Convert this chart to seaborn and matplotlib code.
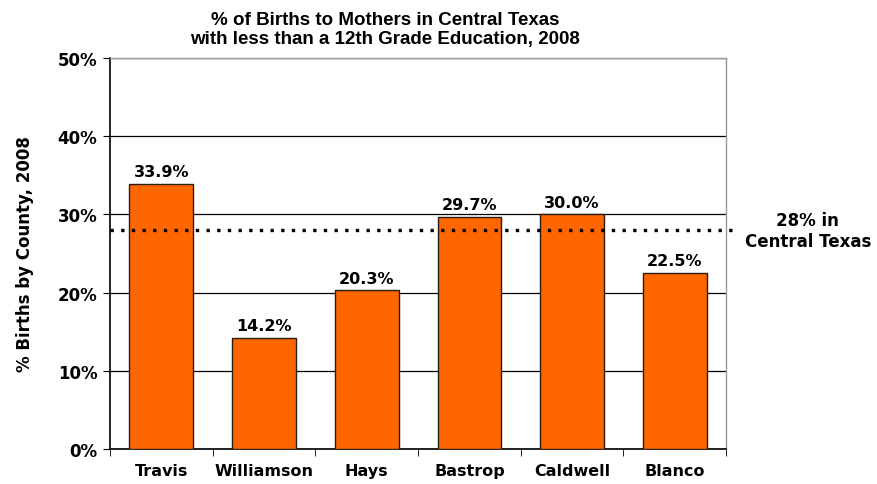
import pandas as pd
import numpy as np
import seaborn as sns
import matplotlib.pyplot as plt
from matplotlib.ticker import PercentFormatter

# data
counties = ['Travis', 'Williamson', 'Hays', 'Bastrop', 'Caldwell', 'Blanco']
pct_births = [33.9, 14.2, 20.3, 29.7, 30.0, 22.5]
central_texas = 28.0

df = pd.DataFrame({'county': counties, 'pct': pct_births})

sns.set_style('white')
plt.rcParams['font.family'] = ['DejaVu Sans']
plt.rcParams['text.color'] = 'black'
plt.rcParams['axes.labelcolor'] = 'black'
plt.rcParams['xtick.color'] = 'black'
plt.rcParams['ytick.color'] = 'black'

fig = plt.figure(figsize=(8.77, 4.85), dpi=100)
ax = fig.add_axes([0.1254, 0.0722, 0.7026, 0.8062])

sns.barplot(data=df, x='county', y='pct', color='#FF6600', saturation=1,
            width=0.62, edgecolor='#2a1a10', linewidth=1.0, ax=ax, zorder=3)

ax.set_ylim(0, 50)
ax.set_xlim(-0.5, len(counties) - 0.5)
ax.set_yticks(range(0, 51, 10))
ax.yaxis.set_major_formatter(PercentFormatter(decimals=0))
ax.yaxis.grid(True, color='black', linewidth=0.9, zorder=0)

# bar labels
for i, v in enumerate(pct_births):
    ax.text(i, v + 0.6, f'{v:.1f}%', ha='center', va='bottom',
            fontsize=11.5, fontweight='bold', color='black')

# central texas average
ax.axhline(central_texas, xmin=0, xmax=1.015, color='black', linestyle=(0, (1, 2.2)),
           linewidth=2.4, clip_on=False, zorder=4)
fig.text(0.921, 0.522, '28% in\nCentral Texas', ha='center', va='center',
         fontsize=12, fontweight='bold', linespacing=1.2)

ax.set_xlabel('')
ax.set_ylabel('% Births by County, 2008', fontsize=12, fontweight='bold', labelpad=17)
ax.set_xticks(np.arange(len(counties)))
ax.set_xticklabels(counties, fontsize=11.5, fontweight='bold')
ax.tick_params(axis='x', length=0, pad=10)
ax.tick_params(axis='y', labelsize=12, length=5, left=True, direction='out', pad=4)
for lab in ax.get_yticklabels():
    lab.set_fontweight('bold')

# category boundary ticks on x axis
ax.set_xticks(np.arange(-0.5, len(counties)), minor=True)
ax.tick_params(axis='x', which='minor', length=5, bottom=True, direction='out', color='black')

for side in ['left', 'bottom']:
    ax.spines[side].set_color('black')
    ax.spines[side].set_linewidth(1.2)
for side in ['top', 'right']:
    ax.spines[side].set_color('#999999')
    ax.spines[side].set_linewidth(1.0)
    ax.spines[side].set_visible(True)

fig.suptitle('% of Births to Mothers in Central Texas\nwith less than a 12th Grade Education, 2008',
             x=0.439, y=0.976, fontsize=13.5, fontweight='bold',
             family=['Liberation Sans Narrow', 'Liberation Sans', 'DejaVu Sans'], linespacing=1.15)

fig.savefig('out.png', dpi=100)
